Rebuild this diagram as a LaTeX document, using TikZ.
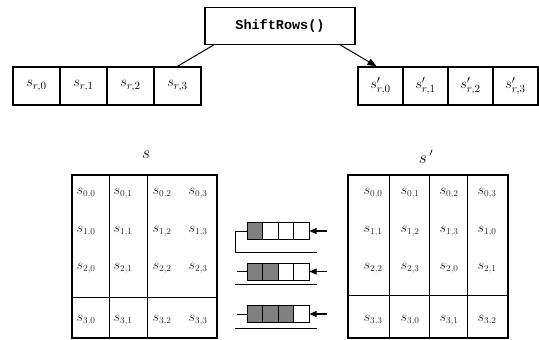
\documentclass[tikz,border=0pt]{standalone}
\usepackage{fontspec}
\setmonofont{Liberation Mono}
\usetikzlibrary{arrows.meta}

\tikzset{
  rowcell/.style={draw, line width=1.4pt, minimum width=47pt, minimum height=38pt,
    inner sep=0pt, font=\fontsize{15}{17}\selectfont},
  rowcellb/.style={rowcell, minimum width=45pt},
  entry/.style={inner sep=0pt, font=\fontsize{13.5}{15}\selectfont, text=black!85},
  frame/.style={line width=2pt},
  grid/.style={line width=1pt},
  regcell/.style={draw, line width=1pt, minimum width=15.5pt, minimum height=17pt, inner sep=0pt},
  full/.style={regcell, fill=black!50},
  empty/.style={regcell, fill=white},
  wire/.style={line width=1pt},
  feed/.style={line width=1.2pt, -{Triangle[length=7pt,width=6pt]}},
}

\begin{document}
\begin{tikzpicture}[x=1pt,y=-1pt]
\useasboundingbox (0,0) rectangle (539,340);

% operation box
\node[draw, line width=1.3pt, minimum width=150pt, minimum height=37pt, inner sep=0pt,
  font=\ttfamily\bfseries\fontsize{13.5}{15}\selectfont] (shift) at (280,26) {ShiftRows()};

% input row
\foreach \i in {0,...,3}
  \node[rowcell] (L\i) at (36.5+47*\i,86) {$s_{r,\i}$};
% output row
\foreach \i in {0,...,3}
  \node[rowcellb] (R\i) at (380.5+45*\i,86) {$s'_{r,\i}$};

\draw[line width=1pt] ([xshift=9pt]shift.south west) -- (L3.north);
\draw[line width=1pt, -{Triangle[length=9pt,width=7pt]}] ([xshift=-15pt]shift.south east) -- ([xshift=-4pt]R0.north);

% state titles
\node[font=\fontsize{16}{18}\selectfont] (ttlS) at (146,155) {$s$};
\node[font=\fontsize{16}{18}\selectfont] (ttlT) at (426,157) {$s\,'$};

% left state
\draw[frame] (72,175) rectangle (217,338);
\draw[grid] (109,175) -- (109,338) (147,175) -- (147,338) (72,297) -- (217,297);
% right state
\draw[frame] (348,175) rectangle (508,338);
\draw[grid] (389,175) -- (389,338) (429,175) -- (429,338) (467,175) -- (467,338) (348,295) -- (508,295);

% entries
\def\rowy{{193,231,268,320}}
\foreach \r in {0,...,3}{
  \foreach \c/\x in {0/86,1/123,2/162,3/198}{
    \pgfmathsetmacro{\yy}{\rowy[\r]}
    \node[entry] (a\r\c) at (\x,\yy) {$s_{\r,\c}$};
  }
}
\foreach \r in {0,...,3}{
  \foreach \c/\x in {0/373,1/410,2/449,3/487}{
    \pgfmathsetmacro{\yy}{\rowy[\r]}
    \pgfmathtruncatemacro{\cc}{mod(\c+\r,4)}
    \node[entry] (b\r\c) at (\x,\yy) {$s_{\r,\cc}$};
  }
}

% shift registers, one byte shifted per extra row
\foreach \k/\y in {1/231,2/271.5,3/314}{
  \foreach \j in {1,...,4}{
    \ifnum\j>\k
      \node[empty] (g\k\j) at (239.25+15.5*\j,\y) {};
    \else
      \node[full] (g\k\j) at (239.25+15.5*\j,\y) {};
    \fi
  }
  \coordinate (in\k) at (327,\y);
  \draw[feed] (in\k) -- (g\k4.east);
}
% wrap-around of the first register
\coordinate (w1) at (235,231);
\coordinate (w2) at (235,252);
\coordinate (w3) at (317,252);
\draw[wire] (g11.west) -- (w1) -- (w2) -- (w3);
% stubs and base lines of the other registers
\coordinate (s2) at (237,271.5);
\coordinate (s3) at (237,314);
\draw[wire] (g21.west) -- (s2);
\draw[wire] (g31.west) -- (s3);
\coordinate (b2a) at (235,284); \coordinate (b2b) at (317,284);
\coordinate (b3a) at (235,328); \coordinate (b3b) at (317,328);
\draw[wire] (b2a) -- (b2b);
\draw[wire] (b3a) -- (b3b);
\end{tikzpicture}
\end{document}
